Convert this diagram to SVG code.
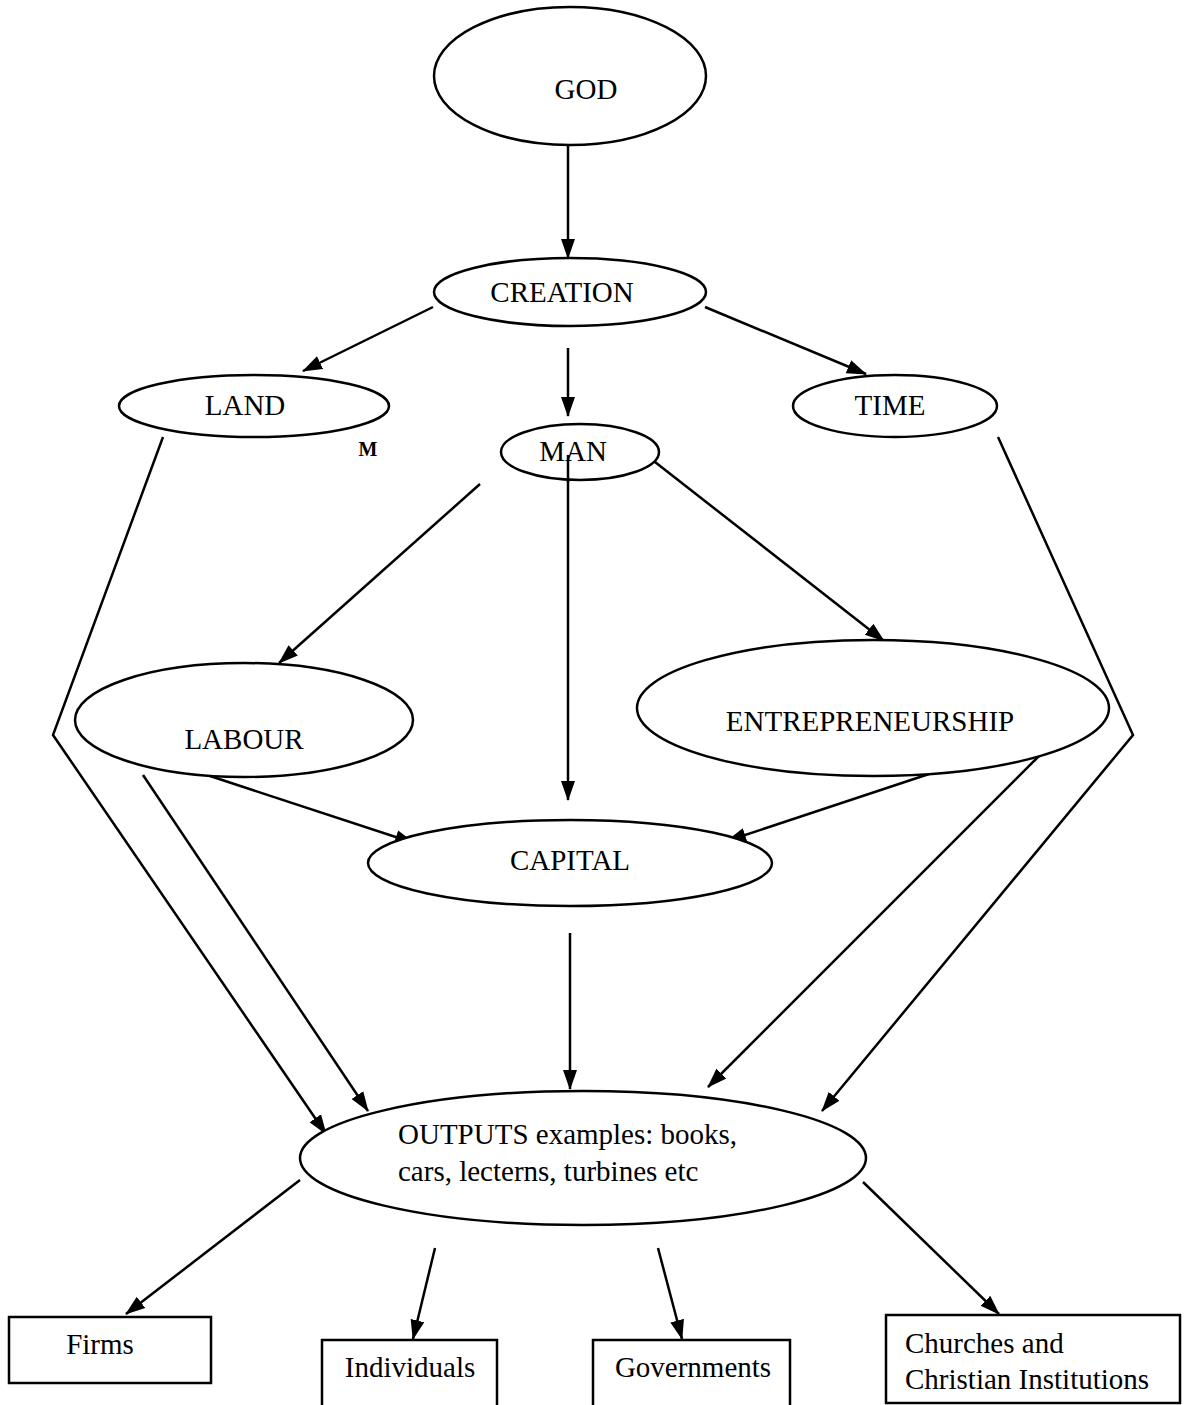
<svg xmlns="http://www.w3.org/2000/svg" width="1190" height="1405" viewBox="0 0 1190 1405">
<style>
.n{fill:#fff;stroke:#000;stroke-width:2.5}
.t{font-family:"Liberation Serif","Times New Roman",serif;font-size:29px;fill:#000}
.c{stroke:#000;stroke-width:2.5;fill:none}
</style>
<defs>
<marker id="a" markerUnits="userSpaceOnUse" markerWidth="20" markerHeight="16" viewBox="0 0 20 16" refX="19" refY="8" orient="auto">
<path d="M0,1 L20,8 L0,15 Z" fill="#000"/>
</marker>
</defs>
<rect width="1190" height="1405" fill="#fff"/>
<g id="connectors">
<line class="c" x1="568" y1="145" x2="568" y2="258" marker-end="url(#a)"/>
<line class="c" x1="433" y1="307" x2="303" y2="371" marker-end="url(#a)"/>
<line class="c" x1="568" y1="348" x2="568" y2="416" marker-end="url(#a)"/>
<line class="c" x1="705" y1="307" x2="866" y2="374" marker-end="url(#a)"/>
<polyline class="c" points="163,437 53,735 326,1134" marker-end="url(#a)"/>
<polyline class="c" points="998,437 1133,735 822,1111" marker-end="url(#a)"/>
<line class="c" x1="480" y1="484" x2="279" y2="663" marker-end="url(#a)"/>
<line class="c" x1="655" y1="462" x2="884" y2="641" marker-end="url(#a)"/>
<line class="c" x1="568" y1="455" x2="568" y2="800" marker-end="url(#a)"/>
<line class="c" x1="210" y1="776" x2="414" y2="843" marker-end="url(#a)"/>
<line class="c" x1="932" y1="773" x2="727" y2="841" marker-end="url(#a)"/>
<line class="c" x1="143" y1="775" x2="368" y2="1111" marker-end="url(#a)"/>
<line class="c" x1="570" y1="933" x2="570" y2="1089" marker-end="url(#a)"/>
<line class="c" x1="1043" y1="752" x2="708" y2="1087" marker-end="url(#a)"/>
<line class="c" x1="300" y1="1180" x2="126" y2="1314" marker-end="url(#a)"/>
<line class="c" x1="435" y1="1248" x2="413" y2="1339" marker-end="url(#a)"/>
<line class="c" x1="658" y1="1248" x2="682" y2="1339" marker-end="url(#a)"/>
<line class="c" x1="863" y1="1182" x2="999" y2="1314" marker-end="url(#a)"/>
</g>
<g id="god"><ellipse class="n" cx="570" cy="76" rx="136" ry="69"/><text class="t" x="586" y="99" text-anchor="middle">GOD</text></g>
<g id="creation"><ellipse class="n" cx="570" cy="292" rx="136" ry="34"/><text class="t" x="562" y="302" text-anchor="middle">CREATION</text></g>
<g id="land"><ellipse class="n" cx="254" cy="406" rx="135" ry="31"/><text class="t" x="245" y="415" text-anchor="middle">LAND</text></g>
<g id="m"><text x="368" y="456" text-anchor="middle" style="font-family:'Liberation Serif',serif;font-size:20px;font-weight:bold">M</text></g>
<g id="time"><ellipse class="n" cx="895" cy="406" rx="102" ry="31"/><text class="t" x="890" y="415" text-anchor="middle">TIME</text></g>
<g id="man"><ellipse class="n" cx="580" cy="452" rx="79" ry="28"/><text class="t" x="573" y="461" text-anchor="middle">MAN</text></g>
<line class="c" x1="568" y1="455" x2="568" y2="482"/>
<g id="labour"><ellipse class="n" cx="244" cy="720" rx="169" ry="57"/><text class="t" x="244" y="749" text-anchor="middle">LABOUR</text></g>
<g id="entrepreneurship"><ellipse class="n" cx="873" cy="708" rx="236" ry="68"/><text class="t" x="870" y="731" text-anchor="middle">ENTREPRENEURSHIP</text></g>
<g id="capital"><ellipse class="n" cx="570" cy="863" rx="202" ry="43"/><text class="t" x="570" y="870" text-anchor="middle">CAPITAL</text></g>
<g id="outputs"><ellipse class="n" cx="583" cy="1158" rx="283" ry="67"/><text class="t" x="398" y="1144">OUTPUTS examples: books,</text><text class="t" x="398" y="1181">cars, lecterns, turbines etc</text></g>
<g id="firms"><rect class="n" x="9" y="1317" width="202" height="66"/><text class="t" x="100" y="1354" text-anchor="middle">Firms</text></g>
<g id="individuals"><rect class="n" x="322" y="1340" width="175" height="70"/><text class="t" x="410" y="1377" text-anchor="middle">Individuals</text></g>
<g id="governments"><rect class="n" x="593" y="1340" width="197" height="70"/><text class="t" x="693" y="1377" text-anchor="middle">Governments</text></g>
<g id="churches"><rect class="n" x="886" y="1315" width="294" height="88"/><text class="t" x="905" y="1353">Churches and</text><text class="t" x="905" y="1389">Christian Institutions</text></g>
</svg>
